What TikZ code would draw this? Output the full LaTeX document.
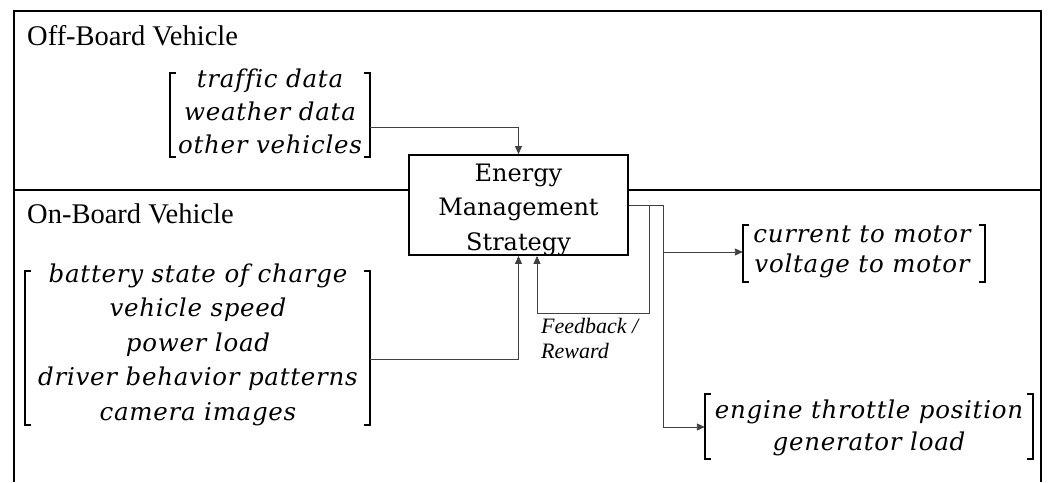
\documentclass[tikz,border=0pt]{standalone}
\usepackage{fontspec}
\setmainfont{Liberation Serif}
\newfontfamily\dvs{DejaVu Serif}
\newfontfamily\dvsit{DejaVu Serif}[LetterSpace=3]
\usetikzlibrary{arrows.meta}
\newcommand{\brk}[1]{%
  \draw[brkline] ([xshift=6pt]#1.north west) -- (#1.north west) -- (#1.south west) -- ([xshift=6pt]#1.south west);
  \draw[brkline] ([xshift=-6pt]#1.north east) -- (#1.north east) -- (#1.south east) -- ([xshift=-6pt]#1.south east);}
\begin{document}
\begin{tikzpicture}[x=1pt,y=-1pt,
  frameline/.style={line width=1.4pt},
  brkline/.style={line width=1.7pt},
  mtx/.style={font=\dvsit\itshape\fontsize{24.5}{24.5}\selectfont, anchor=base, inner sep=0},
  region/.style={draw=none, inner sep=0},
  lbl/.style={font=\fontsize{28.5}{28.5}\selectfont, anchor=base west, inner sep=0},
  boxtxt/.style={font=\dvs\fontsize{24}{24}\selectfont, anchor=base, inner sep=0},
  fb/.style={font=\itshape\fontsize{22}{22}\selectfont, anchor=base west, inner sep=0},
  wire/.style={draw=black!75, line width=0.9pt},
  conn/.style={wire, -{Triangle[length=8pt,width=7pt]}}]
\useasboundingbox (0,0) rectangle (1049,482);
% frame
\draw[frameline] (14,482) -- (14,11) -- (1041,11) -- (1041,482);
\draw[line width=2.2pt] (14,190) -- (1041,190);
% labels
\node[lbl] (off) at (27,45) {Off-Board Vehicle};
\node[lbl] (on) at (27,223) {On-Board Vehicle};
% central box
\node[draw, line width=1.8pt, fill=white, minimum width=219pt, minimum height=100pt, inner sep=0] (ems) at (518.5,205) {};
\node[boxtxt] (e1) at (518.5,181) {Energy};
\node[boxtxt] (e2) at (518.5,215.5) {Management};
\node[boxtxt] (e3) at (518.5,250) {Strategy};
% off-board matrix
\node[region, minimum width=200pt, minimum height=84pt] (offm) at (270,115) {};
\brk{offm}
\node[mtx] (a1) at (270,87) {traf\kern1pt f\kern1pt ic data};
\node[mtx] (a2) at (270,120) {weather data};
\node[mtx] (a3) at (270,153) {other vehicles};
% on-board matrix
\node[region, minimum width=345pt, minimum height=154pt] (onm) at (197.5,348) {};
\brk{onm}
\node[mtx] (b1) at (198,282) {battery state of charge};
\node[mtx] (b2) at (198,316.5) {vehicle speed};
\node[mtx] (b3) at (198,351) {power load};
\node[mtx] (b4) at (198,385.5) {driver behavior patterns};
\node[mtx] (b5) at (198,420) {camera images};
% output 1
\node[region, minimum width=242pt, minimum height=57pt] (out1) at (864,253.5) {};
\brk{out1}
\node[mtx] (c1) at (862,242) {current to motor};
\node[mtx] (c2) at (862,272) {voltage to motor};
% output 2
\node[region, minimum width=328pt, minimum height=65pt] (out2) at (869,426.5) {};
\brk{out2}
\node[mtx] (d1) at (869,418) {engine throttle position};
\node[mtx] (d2) at (869,450) {generator load};
% feedback label
\node[fb] (fb1) at (541,333) {Feedback /};
\node[fb] (fb2) at (541,358) {Reward};
% connectors
\draw[conn] (offm.east |- 0,127) -| (ems.north);
\draw[conn] (onm.east |- 0,359) -| (ems.south);
\draw[conn] (ems.east |- 0,205) -- (649,205) |- (537,313) -- ([xshift=18.5pt]ems.south);
\draw[wire] (ems.east |- 0,205) -- (663,205) -- (663,427);
\draw[conn] (663,252) -- (out1.west |- 0,252);
\draw[conn] (663,427) -- (out2.west |- 0,427);
\end{tikzpicture}
\end{document}
